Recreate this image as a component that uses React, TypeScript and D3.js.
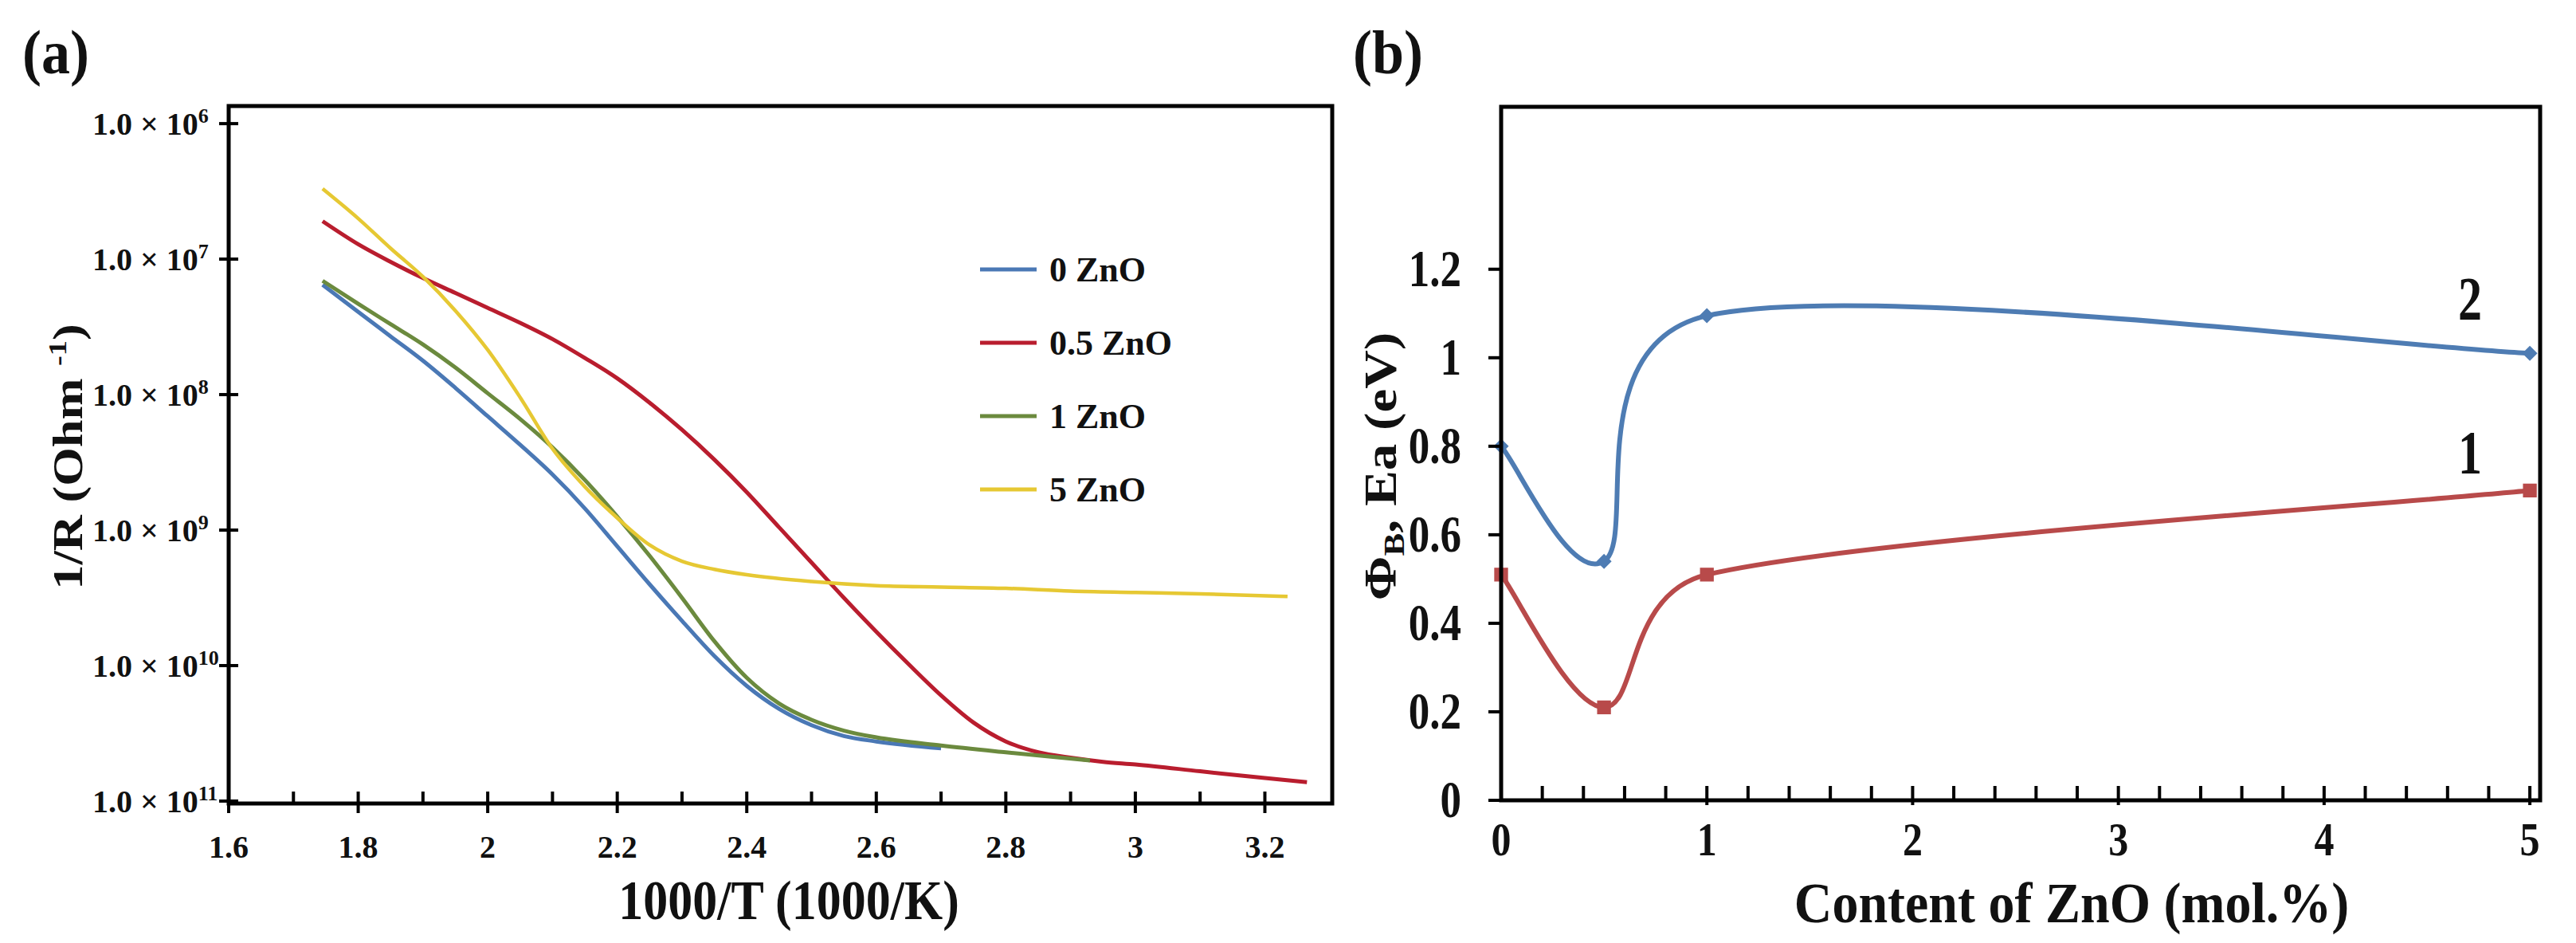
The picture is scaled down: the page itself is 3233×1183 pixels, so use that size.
import React, { useEffect, useRef } from 'react';
import * as d3 from 'd3';

const W = 3233;
const H = 1183;
const FONT = '"Liberation Serif", "Times New Roman", serif';

// ---- panel (a): 1000/T vs 1/R, values are log10 of the axis value ----
const zno0X = [1.745, 1.8, 1.85, 1.9, 1.95, 2.0, 2.05, 2.1, 2.15, 2.2, 2.25, 2.3, 2.35, 2.4, 2.45, 2.5, 2.55, 2.6, 2.7];
const zno0Log = [7.19, 7.39, 7.57, 7.75, 7.95, 8.16, 8.37, 8.59, 8.84, 9.12, 9.4, 9.67, 9.93, 10.15, 10.32, 10.44, 10.52, 10.56, 10.61];

const zno05X = [1.745, 1.8, 1.85, 1.9, 1.95, 2.0, 2.05, 2.1, 2.15, 2.2, 2.25, 2.3, 2.35, 2.4, 2.45, 2.5, 2.55, 2.6, 2.65, 2.7, 2.75, 2.8, 2.85, 2.9, 2.95, 3.0, 3.1, 3.2, 3.265];
const zno05Log = [6.72, 6.89, 7.02, 7.14, 7.25, 7.36, 7.47, 7.59, 7.73, 7.88, 8.06, 8.26, 8.48, 8.72, 8.98, 9.24, 9.5, 9.75, 9.99, 10.22, 10.42, 10.56, 10.64, 10.68, 10.71, 10.73, 10.78, 10.83, 10.86];

const zno1X = [1.745, 1.8, 1.85, 1.9, 1.95, 2.0, 2.05, 2.1, 2.15, 2.2, 2.25, 2.3, 2.35, 2.4, 2.45, 2.5, 2.55, 2.6, 2.7, 2.8, 2.93];
const zno1Log = [7.16, 7.33, 7.48, 7.63, 7.8, 7.99, 8.18, 8.39, 8.63, 8.9, 9.19, 9.5, 9.82, 10.09, 10.28, 10.4, 10.48, 10.53, 10.59, 10.64, 10.7];

const zno5X = [1.745, 1.8, 1.85, 1.9, 1.95, 2.0, 2.05, 2.1, 2.15, 2.2, 2.25, 2.3, 2.35, 2.4, 2.5, 2.6, 2.7, 2.8, 2.9, 3.0, 3.1, 3.235];
const zno5Log = [6.48, 6.7, 6.92, 7.13, 7.38, 7.67, 8.02, 8.4, 8.68, 8.91, 9.11, 9.23, 9.29, 9.33, 9.38, 9.41, 9.42, 9.43, 9.45, 9.46, 9.47, 9.49];

const legendNames = ['0 ZnO', '0.5 ZnO', '1 ZnO', '5 ZnO'];
const legendColors = ['#4A78B5', '#B91D2E', '#6B8A3E', '#E6C833'];

const xTicksA = [1.6, 1.8, 2, 2.2, 2.4, 2.6, 2.8, 3, 3.2];
const xMinorA = [1.7, 1.9, 2.1, 2.3, 2.5, 2.7, 2.9, 3.1];
const yExpA = [6, 7, 8, 9, 10, 11];

// ---- panel (b): content of ZnO vs barrier height / activation energy ----
const contentZnO = [0, 0.5, 1, 5];
const curve1 = [0.51, 0.21, 0.51, 0.7];
const curve2 = [0.8, 0.54, 1.095, 1.01];
const yTicksB = [0, 0.2, 0.4, 0.6, 0.8, 1, 1.2];
const xTicksB = [0, 1, 2, 3, 4, 5];

// spreadsheet-style smooth line: tangent (p2-p0)/6, capped at half the segment length
function smoothPath(pts: [number, number][]): string {
  let d = `M${pts[0][0]},${pts[0][1]}`;
  const cap = (vx: number, vy: number, max: number) => {
    const len = Math.hypot(vx, vy);
    return len > max && len > 0 ? [(vx * max) / len, (vy * max) / len] : [vx, vy];
  };
  for (let i = 0; i < pts.length - 1; i++) {
    const p0 = pts[Math.max(i - 1, 0)];
    const p1 = pts[i];
    const p2 = pts[i + 1];
    const p3 = pts[Math.min(i + 2, pts.length - 1)];
    const half = Math.hypot(p2[0] - p1[0], p2[1] - p1[1]) / 2;
    const t1 = cap((p2[0] - p0[0]) / 6, (p2[1] - p0[1]) / 6, half);
    const t2 = cap((p3[0] - p1[0]) / 6, (p3[1] - p1[1]) / 6, half);
    d += `C${p1[0] + t1[0]},${p1[1] + t1[1]} ${p2[0] - t2[0]},${p2[1] - t2[1]} ${p2[0]},${p2[1]}`;
  }
  return d;
}

const App: React.FC = () => {
  const svgRef = useRef<SVGSVGElement>(null);

  useEffect(() => {
    if (!svgRef.current) return;
    const svg = d3.select(svgRef.current);
    svg.selectAll('*').remove();
    svg.append('rect').attr('width', W).attr('height', H).attr('fill', '#fff');

    // bold serif text, optionally stretched vertically like the source figure
    const txt = (x: number, y: number, s: string, size: number, anchor = 'middle', k = 1) =>
      svg
        .append('text')
        .attr('transform', `translate(${x},${y}) scale(1,${k})`)
        .attr('text-anchor', anchor)
        .attr('font-family', FONT)
        .attr('font-weight', 'bold')
        .attr('font-size', size)
        .attr('fill', '#111')
        .text(s);

    // ================= panel (a) =================
    const A = { left: 287, right: 1672, top: 133, bottom: 1008 };
    const xA = d3.scaleLinear().domain([1.6, 3.304]).range([A.left, A.right]);
    const yA = d3.scaleLog().domain([10 ** 5.87, 10 ** 11.018]).range([A.top, A.bottom]);

    const lineA = d3
      .line<[number, number]>()
      .x(d => xA(d[0]))
      .y(d => yA(10 ** d[1]))
      .curve(d3.curveMonotoneX);

    const seriesA = [
      { x: zno0X, y: zno0Log, color: legendColors[0], w: 5 },
      { x: zno05X, y: zno05Log, color: legendColors[1], w: 5 },
      { x: zno1X, y: zno1Log, color: legendColors[2], w: 5 },
      { x: zno5X, y: zno5Log, color: legendColors[3], w: 4.5 },
    ];
    seriesA.forEach(s => {
      svg
        .append('path')
        .datum(s.x.map((v, i) => [v, s.y[i]] as [number, number]))
        .attr('fill', 'none')
        .attr('stroke', s.color)
        .attr('stroke-width', s.w)
        .attr('stroke-linejoin', 'round')
        .attr('d', lineA);
    });

    svg
      .append('rect')
      .attr('x', A.left)
      .attr('y', A.top)
      .attr('width', A.right - A.left)
      .attr('height', A.bottom - A.top)
      .attr('fill', 'none')
      .attr('stroke', '#000')
      .attr('stroke-width', 5);

    // y ticks (crossing the axis) + labels
    yExpA.forEach(e => {
      const y = yA(10 ** e);
      svg.append('line').attr('x1', A.left - 12).attr('x2', A.left + 12).attr('y1', y).attr('y2', y).attr('stroke', '#000').attr('stroke-width', 4);
      const t = svg
        .append('text')
        .attr('x', 116)
        .attr('y', y + 14)
        .attr('font-family', FONT)
        .attr('font-weight', 'bold')
        .attr('font-size', 40)
        .attr('fill', '#111');
      t.append('tspan').text('1.0 \u00d7 10');
      t.append('tspan').attr('dy', -15).attr('font-size', 26).text(String(e));
    });

    // x ticks
    xTicksA.forEach(v => {
      const x = xA(v);
      svg.append('line').attr('x1', x).attr('x2', x).attr('y1', A.bottom - 15).attr('y2', A.bottom + 12).attr('stroke', '#000').attr('stroke-width', 4);
      txt(x, 1076, String(v), 40);
    });
    xMinorA.forEach(v => {
      const x = xA(v);
      svg.append('line').attr('x1', x).attr('x2', x).attr('y1', A.bottom - 15).attr('y2', A.bottom).attr('stroke', '#000').attr('stroke-width', 4);
    });

    txt(990, 1153, '1000/T (1000/K)', 62, 'middle', 1.12);

    // y title with superscript
    const yt = svg
      .append('text')
      .attr('transform', `translate(103,573) rotate(-90) scale(1.2,1)`)
      .attr('text-anchor', 'middle')
      .attr('font-family', FONT)
      .attr('font-weight', 'bold')
      .attr('font-size', 52)
      .attr('fill', '#111');
    yt.append('tspan').text('1/R (Ohm ');
    yt.append('tspan').attr('dy', -20).attr('font-size', 32).text('-1');
    yt.append('tspan').attr('dy', 20).text(')');

    txt(28, 92, '(a)', 72, 'start', 1.1);

    // legend
    legendNames.forEach((name, i) => {
      const y = 338 + i * 92;
      svg.append('line').attr('x1', 1230).attr('x2', 1301).attr('y1', y).attr('y2', y).attr('stroke', legendColors[i]).attr('stroke-width', 5);
      txt(1317, y + 15, name, 44, 'start');
    });

    // ================= panel (b) =================
    const B = { left: 1884, right: 3188, top: 134, bottom: 1004 };
    const xB = d3.scaleLinear().domain([0, 5.05]).range([B.left, B.right]);
    const yB = d3.scaleLinear().domain([0, 1.567]).range([B.bottom, B.top]);

    const seriesB = [
      { y: curve2, color: '#4E7CB3', symbol: (d3 as any).symbolDiamond2 || d3.symbolDiamond, size: 230 },
      { y: curve1, color: '#B84A4A', symbol: d3.symbolSquare, size: 300 },
    ];
    seriesB.forEach(s => {
      const pts = s.y.map((v, i) => [xB(contentZnO[i]), yB(v)] as [number, number]);
      svg
        .append('path')
        .attr('fill', 'none')
        .attr('stroke', s.color)
        .attr('stroke-width', 6)
        .attr('d', smoothPath(pts));
      svg
        .selectAll(null)
        .data(pts)
        .join('path')
        .attr('transform', d => `translate(${d[0]},${d[1]})`)
        .attr('d', d3.symbol().type(s.symbol).size(s.size)())
        .attr('fill', s.color);
    });

    svg
      .append('rect')
      .attr('x', B.left)
      .attr('y', B.top)
      .attr('width', B.right - B.left)
      .attr('height', B.bottom - B.top)
      .attr('fill', 'none')
      .attr('stroke', '#000')
      .attr('stroke-width', 5);

    yTicksB.forEach(v => {
      const y = yB(v);
      svg.append('line').attr('x1', B.left - 16).attr('x2', B.left).attr('y1', y).attr('y2', y).attr('stroke', '#000').attr('stroke-width', 4);
      txt(1834, y + 21, String(v), 53, 'end', 1.22);
    });

    d3.range(1, 26).forEach(i => {
      const x = xB(i * 0.2);
      const major = i % 5 === 0;
      svg.append('line').attr('x1', x).attr('x2', x).attr('y1', B.bottom - 18).attr('y2', B.bottom + (major ? 6 : 0)).attr('stroke', '#000').attr('stroke-width', 4);
    });
    xTicksB.forEach(v => {
      txt(xB(v), 1073, String(v), 50, 'middle', 1.2);
    });

    txt(2600, 1157, 'Content of ZnO (mol.%)', 66, 'middle', 1.1);

    const bt = svg
      .append('text')
      .attr('transform', `translate(1752,585) rotate(-90) scale(1.2,1)`)
      .attr('text-anchor', 'middle')
      .attr('font-family', FONT)
      .attr('font-weight', 'bold')
      .attr('font-size', 56)
      .attr('fill', '#111');
    bt.append('tspan').text('\u03a6');
    bt.append('tspan').attr('dy', 10).attr('font-size', 36).text('B');
    bt.append('tspan').attr('dy', -10).text(', Ea (eV)');

    txt(1698, 92, '(b)', 72, 'start', 1.1);

    txt(3100, 401, '2', 60, 'middle', 1.3);
    txt(3100, 594, '1', 60, 'middle', 1.3);
  }, []);

  return (
    <svg
      ref={svgRef}
      width={W}
      height={H}
      style={{ position: 'absolute', left: 0, top: 0, display: 'block' }}
    />
  );
};

export default App;
